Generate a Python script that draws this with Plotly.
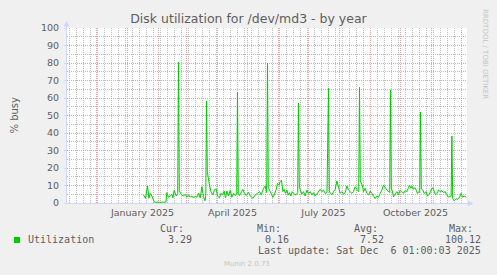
import pandas as pd
import plotly.graph_objects as go

title_text = "Disk utilization for /dev/md3 - by year"
y_label = "% busy"
series_name = "Utilization"

# day offsets from 2025-01-01 and % busy values
base_date = "2025-01-01"
day_offsets = [
    16, 18, 20, 21.4, 22.7, 24.4, 26, 27, 32, 38.4, 39.4, 41, 42.7, 44.4, 45.4, 46.7, 48.7, 50.2,
    51, 51.8, 53.5, 54.4, 56, 57.7, 59.4, 61, 62.7, 64.4, 66, 67.7, 69.4, 71, 72.7, 74.4, 76, 77.5, 78.3,
    79, 79.8, 81.7, 83.4, 85.4, 87, 88.7, 90, 92, 93.4, 95.4, 96.7, 98, 99.4, 101, 102.7, 104.4, 106,
    107.7, 109.2, 110, 110.8, 112, 113.4, 115.4, 116.7, 118.7, 121, 122.7, 125.4, 127.7, 130, 132,
    133.7, 136, 137.7, 139.2, 140, 140.8, 142, 143.4, 145.4, 146.7, 148.7, 150, 151.4, 152.7, 154,
    155.4, 156.7, 158, 159.4, 160.7, 162, 163.4, 164.7, 166, 167.7, 169.4, 170.2, 171, 171.8, 172.7,
    174.4, 176, 177.7, 179.4, 181, 182.7, 184.4, 186, 187.7, 189.4, 191, 192.7, 194.4, 196, 197.7,
    199.5, 201, 201.8, 202.7, 204.4, 206, 207.7, 209.4, 211, 212.7, 214.4, 216, 217.7, 219.4, 221,
    222.7, 224.4, 226, 227.7, 229.4, 231.2, 232, 232.8, 234.7, 236, 237.7, 239.4, 241, 242.7, 244.4,
    246, 247.7, 249.4, 251, 252.7, 254.4, 256, 257.7, 259.4, 262.2, 263, 263.8, 264.6, 266, 267.7,
    269.4, 271, 272.7, 274.4, 276, 277.7, 279.4, 281, 282, 283.4, 284.7, 286, 287.4, 288.7, 290,
    291.3, 292.2, 293, 293.8, 295.4, 296.7, 298.7, 300, 302, 303.4, 305.4, 306.7, 308, 309.4, 311,
    312.7, 314.4, 316, 317.7, 319.4, 321, 323.6, 324.4, 325.2, 326.7, 328.7, 330, 332, 333.7, 335,
    336.7, 338.7,
]
busy_values = [
    4.6, 2.7, 9.7, 2.7, 5.5, 4.0, 1.7, 0.5, 0.4, 0.5, 5.9, 3.3, 4.0, 5.0, 2.9, 7.2, 4.0, 5.5,
    80.4, 7.0, 5.0, 4.6, 4.0, 5.0, 3.3, 4.6, 3.3, 4.0, 2.9, 4.0, 3.3, 5.5, 2.9, 9.3, 3.6, 1.3, 4.0,
    58.3, 17.9, 11.2, 6.5, 4.6, 7.6, 8.0, 4.0, 2.9, 5.5, 4.8, 6.8, 2.9, 6.8, 4.0, 7.2, 3.3, 5.5,
    4.2, 5.0, 63.4, 5.0, 4.2, 6.1, 7.8, 5.9, 4.2, 6.1, 4.0, 2.7, 4.6, 5.5, 6.5,
    4.6, 8.4, 9.7, 6.0, 80.0, 9.0, 7.4, 5.5, 3.2, 4.6, 7.8, 11.2, 10.3, 12.2, 13.1,
    6.5, 7.8, 5.5, 7.4, 4.6, 5.9, 4.0, 6.5, 5.5, 4.6, 5.1, 6.0, 57.1, 9.0, 7.4,
    5.1, 6.5, 4.0, 7.4, 5.5, 6.5, 4.6, 5.9, 4.0, 5.1, 6.5, 7.8, 6.5, 7.4, 5.5,
    6.0, 65.5, 7.0, 5.5, 4.6, 6.5, 7.8, 12.6, 8.4, 5.5, 6.5, 5.1, 5.9, 9.7, 7.4,
    6.5, 5.5, 6.5, 9.3, 7.8, 6.5, 66.1, 12.6, 10.3, 6.5, 8.4, 5.5, 4.6, 6.8, 5.5,
    4.0, 2.5, 4.0, 3.3, 5.5, 7.4, 10.3, 8.4, 7.4, 6.0, 64.6, 8.0, 7.4, 3.6, 5.5,
    6.5, 4.6, 7.4, 6.5, 5.5, 7.0, 6.5, 8.8, 10.3, 8.4, 9.7, 7.8, 8.8, 7.4, 5.5,
    6.5, 6.0, 52.0, 8.0, 7.4, 5.5, 6.5, 4.0, 5.1, 7.4, 8.8, 5.9, 4.6, 5.5, 7.4,
    6.5, 7.0, 5.9, 6.5, 4.6, 3.3, 4.0, 38.3, 2.5, 1.3, 2.5, 1.9, 3.3, 5.5, 3.3,
    4.0, 3.3,
]

x_range = ["2024-11-01 12:00", "2025-12-06 12:00"]
y_range = [0, 100]
quarter_label_dates = ["2025-01-16", "2025-04-16", "2025-07-16", "2025-10-16"]
quarter_labels = ["January 2025", "April 2025", "July 2025", "October 2025"]
month_starts = pd.date_range("2024-12-01", "2025-12-01", freq="MS")
week_starts = pd.date_range("2024-11-04", "2025-12-06", freq="7D")

stat_headers = ["Cur:", "Min:", "Avg:", "Max:"]
stat_values = ["3.29", "0.16", "7.52", "100.12"]
last_update = "Last update: Sat Dec \u00a06 01:00:03 2025"
footer_text = "Munin 2.0.73"
side_text = "RRDTOOL / TOBI OETIKER"

# ---- styling ----
W, H = 497, 275
L, T, PW, PH = 67, 28, 400, 175
LINE_GREEN = "#00CC00"
AXIS_COL = "#CFD6F8"
FONT_COL = "#5E5E5E"
MGRID = "#EBA0A0"
GRID = "#BDBDBD"
DOT = "1px,1px"
SANS = "DejaVu Sans"
MONO = "DejaVu Sans Mono"


def px(x):
    return (x - L) / PW


def py(y):
    return (T + PH - y) / PH


dates = pd.Timestamp(base_date) + pd.to_timedelta(day_offsets, unit="D")

fig = go.Figure()
fig.add_trace(go.Scatter(
    x=dates, y=busy_values, mode="lines", name=series_name,
    line=dict(color=LINE_GREEN, width=1), showlegend=False, hoverinfo="skip",
))
fig.add_trace(go.Scatter(x=[], y=[], xaxis="x2", showlegend=False, hoverinfo="skip"))

fig.update_layout(
    width=W, height=H,
    margin=dict(l=L, r=W - L - PW, t=T, b=H - T - PH, pad=0),
    paper_bgcolor="#F0F0F0", plot_bgcolor="#FFFFFF",
    font=dict(family=SANS, color=FONT_COL, size=9.5),
    title=dict(text=title_text, x=0.5, xref="container", xanchor="center",
               y=1 - 19 / H, yref="container", yanchor="middle",
               font=dict(family=SANS, size=12.5, color=FONT_COL)),
    xaxis=dict(type="date", range=x_range, showticklabels=False, showgrid=False,
               ticks="", showline=False, zeroline=False),
    xaxis2=dict(
        type="date", range=x_range, overlaying="x", anchor="y", side="bottom",
        tickmode="array", tickvals=quarter_label_dates, ticktext=quarter_labels,
        showgrid=False, showline=False, zeroline=False, ticks="",
        tickfont=dict(family=SANS, size=9.5, color=FONT_COL), ticklabelstandoff=2,
    ),
    yaxis=dict(
        range=y_range, tickmode="linear", tick0=0, dtick=10,
        showgrid=True, gridcolor=MGRID, griddash=DOT, gridwidth=1,
        zeroline=False, showline=False, ticks="outside", ticklen=2, tickcolor=AXIS_COL,
        tickfont=dict(family=SANS, size=9.5, color=FONT_COL), ticklabelstandoff=3,
        minor=dict(tickmode="linear", tick0=5, dtick=10, showgrid=True,
                   gridcolor=GRID, griddash=DOT, gridwidth=1, ticks=""),
    ),
)

shapes = []
# vertical grid: weekly (minor) and monthly (major)
for d in week_starts:
    if d in month_starts:
        continue
    shapes.append(dict(type="line", xref="x", yref="paper", x0=d, x1=d, y0=0, y1=1, layer="below",
                       line=dict(color=GRID, width=1, dash=DOT)))
for d in month_starts:
    shapes.append(dict(type="line", xref="x", yref="paper", x0=d, x1=d, y0=0, y1=1, layer="below",
                       line=dict(color=MGRID, width=1, dash=DOT)))
shapes += [
    # axes lines
    dict(type="line", xref="paper", yref="paper", x0=px(66.5), x1=px(470), y0=py(203.5), y1=py(203.5),
         line=dict(color=AXIS_COL, width=1)),
    dict(type="line", xref="paper", yref="paper", x0=px(66.5), x1=px(66.5), y0=py(203.5), y1=py(24),
         line=dict(color=AXIS_COL, width=1)),
    # arrows
    dict(type="path", xref="paper", yref="paper",
         path=f"M {px(63.5)},{py(26.5)} L {px(69.5)},{py(26.5)} L {px(66.5)},{py(21)} Z",
         fillcolor=AXIS_COL, line=dict(width=0)),
    dict(type="path", xref="paper", yref="paper",
         path=f"M {px(468)},{py(200.5)} L {px(468)},{py(206.5)} L {px(473.5)},{py(203.5)} Z",
         fillcolor=AXIS_COL, line=dict(width=0)),
    # legend swatch
    dict(type="rect", xref="paper", yref="paper", x0=px(14), x1=px(20), y0=py(243), y1=py(237),
         fillcolor=LINE_GREEN, line=dict(width=0)),
]
fig.update_layout(shapes=shapes)

ann = []


def add_text(text, x, y, xanchor="left", font=MONO, size=10, color=FONT_COL, angle=0):
    ann.append(dict(text=text, x=px(x), y=py(y), xref="paper", yref="paper",
                    xanchor=xanchor, yanchor="middle", showarrow=False, textangle=angle,
                    font=dict(family=font, size=size, color=color)))


add_text(y_label, 14, 115.5, xanchor="center", font=SANS, size=10, angle=-90)
add_text(series_name, 26, 239.5)
header_lefts = [158, 255, 352, 447]
value_rights = [194, 291, 386, 483]
for h, v, hx, vx in zip(stat_headers, stat_values, header_lefts, value_rights):
    add_text(h, hx, 228)
    add_text(v, vx, 239.5, xanchor="right")
add_text(last_update, 483, 250.5, xanchor="right")
add_text(footer_text, 247, 264, xanchor="center", font=SANS, size=7, color="#C4C4C4")
add_text(side_text, 485, 54, xanchor="center", font=SANS, size=7, color="#C4C4C4", angle=90)
fig.update_layout(annotations=ann)

fig.write_html("out.html")
